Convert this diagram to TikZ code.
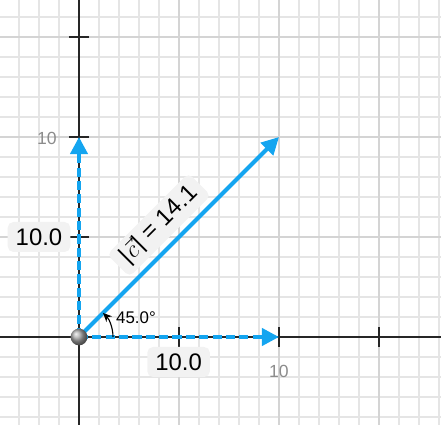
\documentclass[tikz,border=0pt]{standalone}
\usepackage{fontspec}
\setmainfont{Liberation Sans}
\usetikzlibrary{arrows.meta}
\definecolor{vecblue}{RGB}{20,165,240}
\tikzset{
  minorgrid/.style={line width=0.8pt,black!10},
  majorgrid/.style={line width=0.9pt,black!17},
  axis/.style={line width=1.3pt,black!85},
  axtick/.style={line width=1.3pt,black!85},
  vec/.style={line width=2.8pt,vecblue,-{Triangle[length=4.3mm,width=4.3mm]}},
  compvec/.style={vec,dash pattern=on 6.5pt off 3pt},
  lbl/.style={fill=black!5,rounded corners=4pt,font=\fontsize{17}{19}\selectfont,inner xsep=2mm,minimum height=7.5mm},
  ticklbl/.style={text=black!45,font=\fontsize{12.5}{14}\selectfont},
  anglbl/.style={font=\fontsize{12}{14}\selectfont},
  % angle marker between the x-axis and the vector c
  anglearc/.style={line width=0.8pt,-{Stealth[length=2.2mm,width=2mm]}},
  origin/.style={circle,ball color=black!35,minimum size=4.2mm,inner sep=0pt},
}

\begin{document}
\begin{tikzpicture}[x=0.5cm,y=0.5cm]
  \useasboundingbox (-3.95,-4.4) rectangle (18.1,16.85);
  \draw[minorgrid,step=1] (-3.95,-4.4) grid (18.1,16.85);
  \draw[majorgrid,step=5] (-3.95,-4.4) grid (18.1,16.85);
  \coordinate (xl) at (-3.95,0); \coordinate (xr) at (18.1,0);
  \coordinate (yb) at (0,-4.4);  \coordinate (yt) at (0,16.85);
  \draw[axis] (xl) -- (xr);
  \draw[axis] (yb) -- (yt);
  \foreach \t in {5,10,15}{
    \draw[axtick] (\t,-0.5) -- (\t,0.5);
    \draw[axtick] (-0.5,\t) -- (0.5,\t);
  }
  \node[ticklbl] (ylab) at (-1.6,9.95) {10};
  \node[ticklbl] (xlab) at (10,-1.7) {10};

  \coordinate (O) at (0,0);
  \coordinate (cx) at (10,0);
  \coordinate (cy) at (0,10);
  \coordinate (c) at (10,10);
  \draw[compvec] (O) -- (cx);
  \draw[compvec] (O) -- (cy);
  \draw[vec] (O) -- (c);

  \draw[anglearc] (O) ++(0:1.7) arc[start angle=0,end angle=45,radius=1.7];
  \node[anglbl] (ang) at (2.85,0.95) {45.0°};

  \node[lbl] (xval) at (4.98,-1.25) {10.0};
  \node[lbl] (yval) at (-2.0,5.0) {10.0};
  \node[lbl,rotate=45] (cval) at (4.0,5.6) {|\kern1pt$\vec{c}$\kern1pt| = 14.1};

  \node[origin] (orig) at (O) {};
\end{tikzpicture}
\end{document}
